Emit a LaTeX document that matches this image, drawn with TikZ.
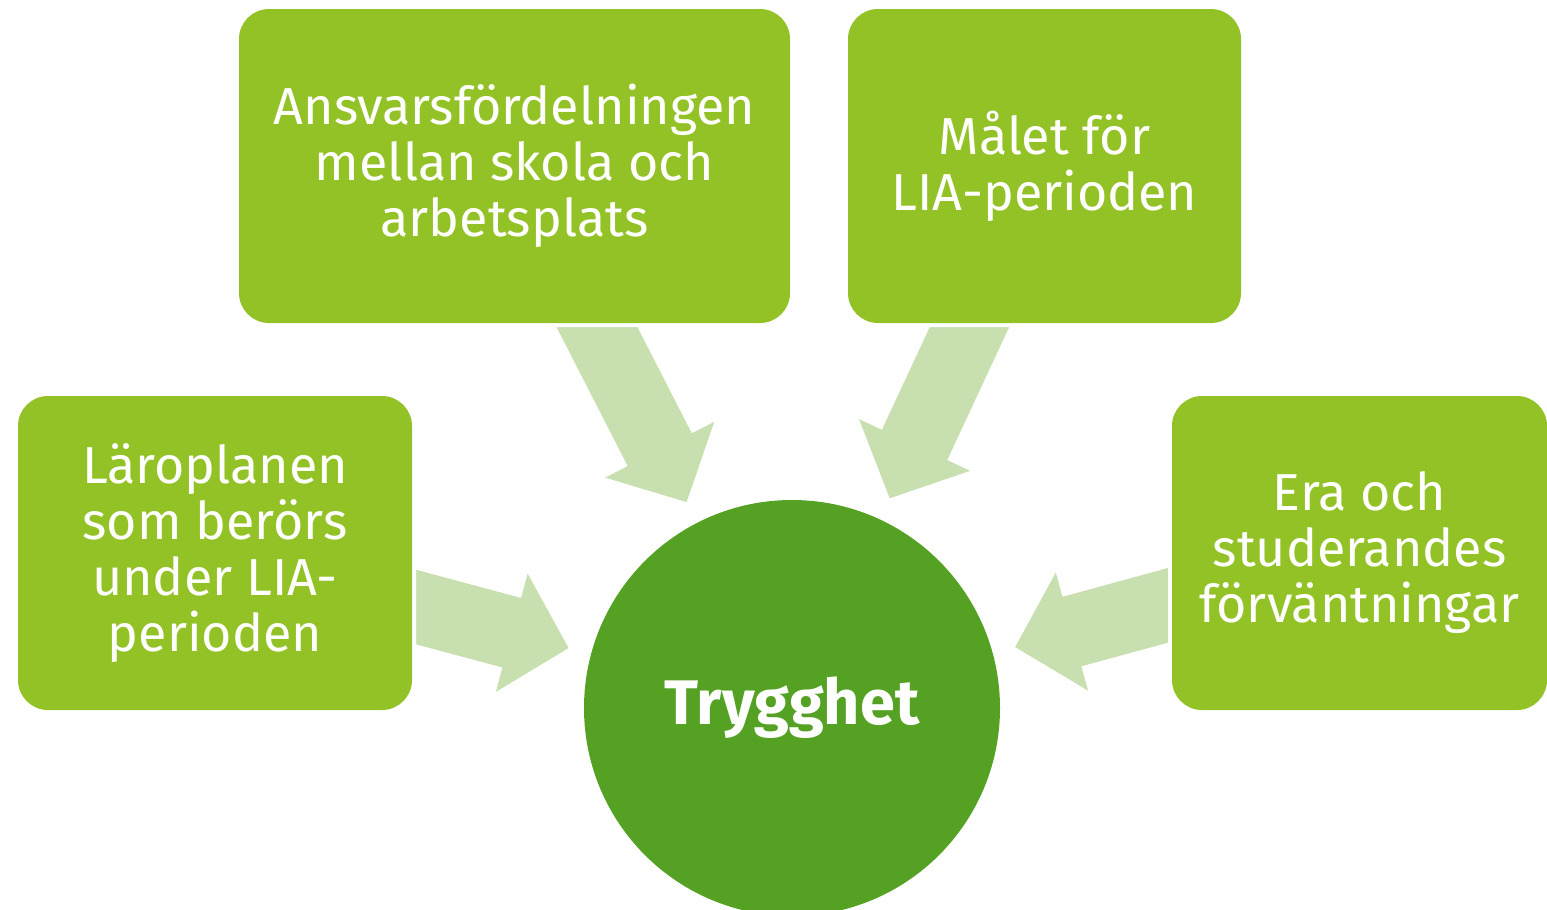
\documentclass[tikz,border=0pt]{standalone}
\usepackage{fontspec}
\setmainfont{Fira Sans}
\usetikzlibrary{arrows.meta}
\definecolor{boxgreen}{RGB}{147,194,38}
\definecolor{centergreen}{RGB}{85,161,35}
\definecolor{pilgreen}{RGB}{200,223,176}
\pgfdeclarelayer{background}
\pgfsetlayers{background,main}

\begin{document}
\begin{tikzpicture}[x=1pt, y=-1pt,
	ruta/.style={rectangle, rounded corners=30pt, fill=boxgreen, text=white, align=center, minimum height=314pt, inner sep=0pt, font=\fontsize{52}{56}\selectfont, preaction={draw=white, line width=8pt}},
	mitt/.style={circle, fill=centergreen, text=white, minimum size=416pt, font=\fontsize{63}{66}\selectfont\bfseries},
	pil/.style={color=pilgreen, line width=72pt, -{Triangle[length=59pt,width=119pt]}, shorten >=23pt, preaction={draw, -, shorten >=63pt}}]
\useasboundingbox (0,0) rectangle (1547,910);
\node[mitt] (trygg) at (792,708) {Trygghet};
\node[ruta, minimum width=551pt] (ansvar) at (514.5,166) {Ansvarsfördelningen\\mellan skola och\\arbetsplats};
\node[ruta, minimum width=393pt] (malet) at (1044.5,166) {Målet för\\LIA-perioden};
\node[ruta, minimum width=394pt] (laroplan) at (215,553) {Läroplanen\\som berörs\\under LIA-\\perioden};
\node[ruta, minimum width=375pt] (era) at (1359.5,553) {Era och\\studerandes\\förväntningar};
\begin{pgfonlayer}{background}
\foreach \n in {laroplan,ansvar,malet,era}
	\draw[pil] (\n.center) -- (trygg);
\end{pgfonlayer}
\end{tikzpicture}
\end{document}
